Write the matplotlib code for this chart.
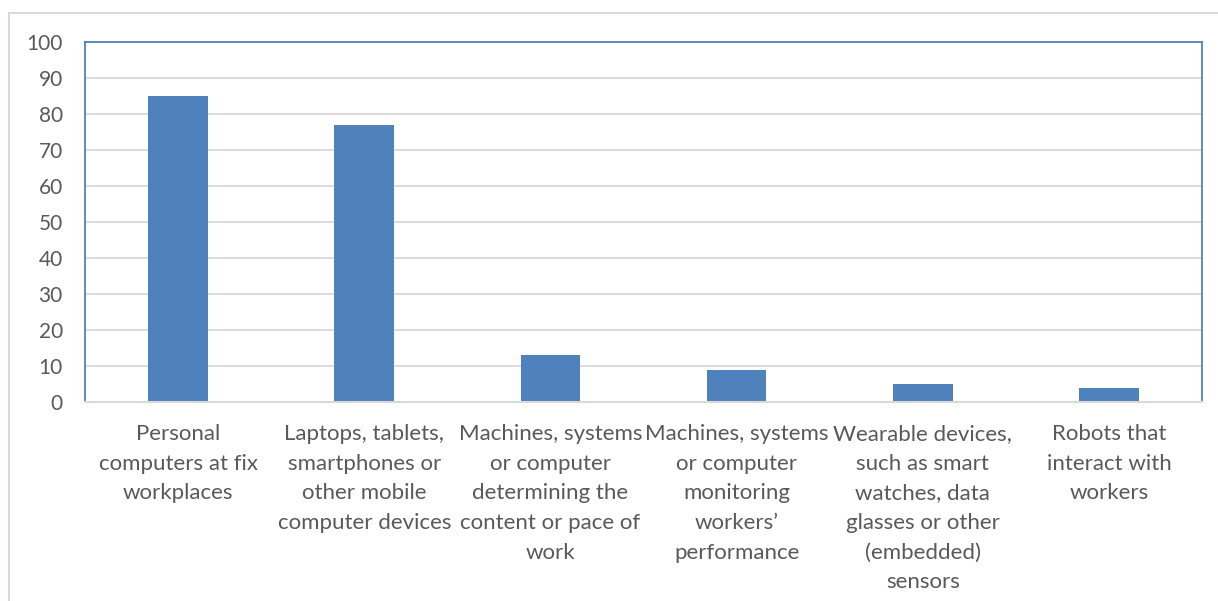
import matplotlib.pyplot as plt
from matplotlib.patches import Rectangle

categories = [
    "Personal\ncomputers at fix\nworkplaces",
    "Laptops, tablets,\nsmartphones or\nother mobile\ncomputer devices",
    "Machines, systems\nor computer\ndetermining the\ncontent or pace of\nwork",
    "Machines, systems\nor computer\nmonitoring\nworkers\u2019\nperformance",
    "Wearable devices,\nsuch as smart\nwatches, data\nglasses or other\n(embedded)\nsensors",
    "Robots that\ninteract with\nworkers",
]
values = [85, 77, 13, 9, 5, 4]
yticks = list(range(0, 101, 10))

bar_color = "#4F81BD"
grid_color = "#D9D9D9"
text_color = "#595959"

plt.rcParams['font.family'] = ['Lato', 'DejaVu Sans']

fig = plt.figure(figsize=(12.18, 6.01), dpi=100)
ax = fig.add_axes([85 / 1218, 199 / 601, 1117 / 1218, 360 / 601])

# outer chart frame (only top and left visible in the reference)
fig.patches.append(Rectangle((9 / 1218, -0.2), 1.2, 1.2 - 13 / 601,
                             transform=fig.transFigure, fill=False,
                             edgecolor=grid_color, lw=1.5))

x = range(len(categories))
ax.bar(x, values, width=0.32, color=bar_color, zorder=3)

ax.set_xlim(-0.5, len(categories) - 0.5)
ax.set_ylim(0, 100)
ax.set_yticks(yticks)
ax.set_yticklabels([str(v) for v in yticks], fontsize=15)
ax.set_xticks(list(x))
ax.set_xticklabels(categories, linespacing=1.6, ha='center', va='top', fontsize=16)

ax.tick_params(axis='both', length=0, colors=text_color)
ax.tick_params(axis='y', pad=16)
ax.tick_params(axis='x', pad=16)

ax.grid(axis='y', color=grid_color, lw=1.3, zorder=0)
for side in ['top', 'left', 'right']:
    ax.spines[side].set_color(bar_color)
    ax.spines[side].set_linewidth(1.3)
ax.spines['bottom'].set_color(grid_color)
ax.spines['bottom'].set_linewidth(1.5)
ax.spines['bottom'].set_zorder(4)

fig.savefig("out.png", dpi=100)
